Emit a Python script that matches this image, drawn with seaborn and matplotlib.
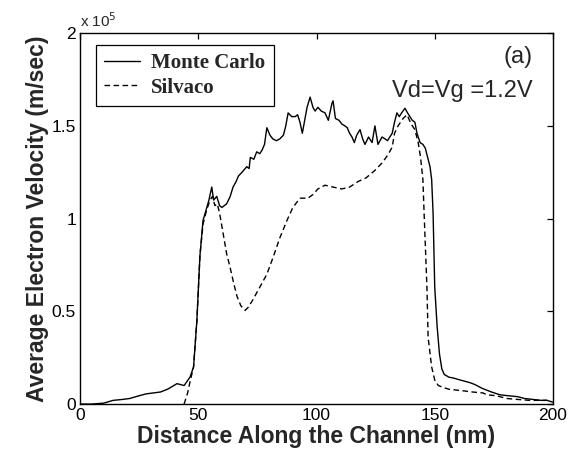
import matplotlib
matplotlib.use("Agg")
import matplotlib.pyplot as plt
import seaborn as sns
import pandas as pd

# Distance along channel (nm) and velocity (x1e5 m/s)
mc_x = [0, 5, 10, 14, 18, 21, 25, 28, 31, 34, 37, 41, 44, 46.5, 48, 49.4, 50.7, 52,
        53.6, 54.5, 55.7, 56.5, 57.8, 59, 60, 62, 63.5, 64.7, 66, 67, 68.5, 70.5, 71.5,
        72, 73.5, 74.7, 76, 77, 78, 79, 80.3, 81.5, 83, 84.5, 86, 87, 88, 89.5, 91, 92,
        93, 94, 95, 96, 97.3, 98.5, 99.4, 100.6, 102, 103.6, 105, 106.5, 107, 108, 109.5,
        110.7, 112, 113, 114, 115, 116, 117, 118.4, 119.5, 120.5, 122, 123.5, 124.7, 126,
        127.7, 129, 130, 132, 133, 134, 135, 136, 137.4, 138.5, 139.5, 140.5, 141.6, 142.5,
        143.8, 145, 146, 147, 148, 148.7, 149.3, 150, 151, 152, 153, 154, 156, 158, 160.7,
        163.6, 165, 167, 170, 174, 177.6, 181, 185, 188, 191.5, 195, 197.5, 200]
mc_v = [0.0, 0.0, 0.005, 0.02, 0.025, 0.03, 0.045, 0.055, 0.06, 0.065, 0.08, 0.11, 0.10,
        0.145, 0.2, 0.45, 0.8, 0.99, 1.06, 1.1, 1.17, 1.10, 1.12, 1.07, 1.06, 1.08, 1.12,
        1.17, 1.2, 1.23, 1.25, 1.28, 1.27, 1.33, 1.32, 1.36, 1.35, 1.37, 1.40, 1.49, 1.45,
        1.43, 1.42, 1.43, 1.45, 1.50, 1.57, 1.55, 1.55, 1.56, 1.52, 1.46, 1.53, 1.60, 1.655,
        1.60, 1.58, 1.60, 1.58, 1.57, 1.53, 1.62, 1.635, 1.54, 1.53, 1.51, 1.50, 1.49, 1.46,
        1.44, 1.41, 1.45, 1.48, 1.43, 1.40, 1.44, 1.41, 1.50, 1.40, 1.44, 1.43, 1.42, 1.46,
        1.52, 1.57, 1.55, 1.57, 1.595, 1.57, 1.55, 1.53, 1.52, 1.46, 1.41, 1.40, 1.38, 1.33,
        1.28, 1.21, 1.03, 0.63, 0.42, 0.27, 0.19, 0.16, 0.145, 0.14, 0.13, 0.12, 0.115,
        0.105, 0.085, 0.065, 0.05, 0.045, 0.04, 0.03, 0.025, 0.02, 0.02, 0.01]

sv_x = [44, 45.5, 46.5, 48, 49.4, 50.7, 52, 53.6, 55, 56, 57, 58, 59, 60.5, 62, 63.4, 65,
        66.4, 68, 69.8, 71, 73, 76, 79, 81.6, 84.6, 87.5, 90, 93, 96.4, 98.5, 100.6, 103.6,
        107, 110.7, 114, 117.6, 121, 124.7, 127.7, 130, 132, 133, 134.5, 136.6, 138.3, 140,
        141.6, 143, 144, 145, 145.5, 146.7, 147.2, 148.7, 150, 151.5, 153.5, 156, 159.4,
        163, 166, 170.4, 172, 176, 180.5, 185, 190, 197.5]
sv_v = [0.0, 0.06, 0.12, 0.2, 0.45, 0.8, 0.97, 1.05, 1.10, 1.12, 1.07, 1.08, 1.03, 0.92,
        0.81, 0.74, 0.65, 0.58, 0.53, 0.505, 0.52, 0.56, 0.63, 0.70, 0.79, 0.90, 0.99, 1.06,
        1.11, 1.11, 1.13, 1.16, 1.18, 1.17, 1.16, 1.17, 1.20, 1.22, 1.26, 1.30, 1.34, 1.385,
        1.46, 1.50, 1.54, 1.56, 1.51, 1.48, 1.41, 1.33, 1.21, 1.03, 0.63, 0.36, 0.2, 0.13,
        0.10, 0.09, 0.08, 0.075, 0.07, 0.065, 0.06, 0.05, 0.045, 0.03, 0.025, 0.02, 0.02]

series_names = ["Monte Carlo", "Silvaco"]
x_ticks = [0, 50, 100, 150, 200]
y_ticks = [0, 0.5, 1, 1.5, 2]
y_tick_labels = ["0", "0.5", "1", "1.5", "2"]

df = pd.concat([
    pd.DataFrame({"x": mc_x, "v": mc_v, "series": series_names[0]}),
    pd.DataFrame({"x": sv_x, "v": sv_v, "series": series_names[1]}),
], ignore_index=True)

sns.set_style("white")
plt.rcParams["font.family"] = ["Liberation Sans", "DejaVu Sans"]

fig = plt.figure(figsize=(5.76, 4.54), dpi=100)
ax = fig.add_axes([0.139, 0.110, 0.821, 0.817])

sns.lineplot(data=df, x="x", y="v", hue="series", style="series",
             palette=["black", "black"], dashes=[(None, None), (4, 2.5)],
             linewidth=1.0, ax=ax, sort=False, estimator=None)

ax.set_xlim(0, 200)
ax.set_ylim(0, 2)
ax.set_xticks(x_ticks)
ax.set_yticks(y_ticks)
ax.set_yticklabels(y_tick_labels)
ax.tick_params(direction="in", length=4, width=0.9, top=True, right=True,
               labelsize=12.5, colors="black", pad=3)
for s in ax.spines.values():
    s.set_color("black")
    s.set_linewidth(1.0)

ax.set_xlabel("Distance Along the Channel (nm)", fontsize=16.5, fontweight="bold", labelpad=1)
ax.set_ylabel("Average Electron Velocity (m/sec)", fontsize=16.5, fontweight="bold", labelpad=2)

ax.text(0.0, 1.008, r"x 10$^5$", transform=ax.transAxes, fontsize=11, ha="left", va="bottom")
ax.text(0.958, 0.935, "(a)", transform=ax.transAxes, fontsize=17, ha="right", va="center")
ax.text(0.958, 0.845, "Vd=Vg =1.2V", transform=ax.transAxes, fontsize=17, ha="right", va="center")

leg = ax.legend(loc="upper left", bbox_to_anchor=(0.034, 0.968), borderaxespad=0,
                frameon=True, fancybox=False, edgecolor="black", framealpha=1,
                handlelength=1.7, prop={"family": "Liberation Serif", "weight": "bold", "size": 15},
                borderpad=0.4, labelspacing=0.2, handletextpad=0.55)
leg.get_frame().set_linewidth(0.9)
leg.set_title(None)

fig.savefig("out.png", dpi=100)
